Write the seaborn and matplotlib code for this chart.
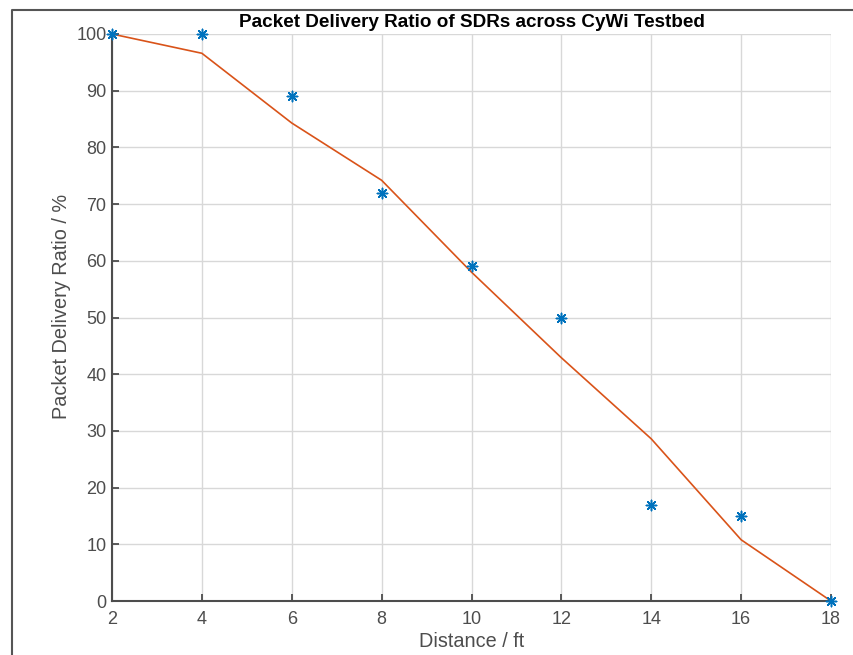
import numpy as np
import pandas as pd
import seaborn as sns
import matplotlib.pyplot as plt
from matplotlib.lines import Line2D

# === data ===
distance_ft = [2, 4, 6, 8, 10, 12, 14, 16, 18]
pdr_measured = [100, 100, 89, 72, 59, 50, 17, 15, 0]
pdr_fit = [100, 96.6, 84.3, 74.2, 58.0, 42.9, 28.6, 10.8, 0]

df = pd.DataFrame({"Distance": distance_ft, "Measured": pdr_measured, "Fit": pdr_fit})

# MATLAB default colours
BLUE = "#0072BD"
ORANGE = "#D95319"
AXCOL = "#4d4d4d"

sns.set_theme(style="whitegrid")
plt.rcParams["font.family"] = ["Liberation Sans", "DejaVu Sans"]

fig = plt.figure(figsize=(8.54, 6.55), dpi=100)
ax = fig.add_axes([112 / 854, 1 - 601 / 655, (831 - 112) / 854, (601 - 34) / 655])

# fitted curve + measured points
sns.lineplot(data=df, x="Distance", y="Fit", color=ORANGE, linewidth=1.2, ax=ax, zorder=2)
sns.scatterplot(data=df, x="Distance", y="Measured", marker=(8, 2, 0), s=55,
                color=BLUE, linewidth=1.1, ax=ax, zorder=3, clip_on=False)

ax.set_xlim(2, 18)
ax.set_ylim(0, 100)
ax.set_xticks(np.arange(2, 19, 2))
ax.set_yticks(np.arange(0, 101, 10))

# grid + spines in MATLAB style
ax.grid(True, color="#d8d8d8", linewidth=1.0)
ax.set_axisbelow(True)
for side in ["top", "right"]:
    ax.spines[side].set_visible(False)
for side in ["left", "bottom"]:
    ax.spines[side].set_color(AXCOL)
    ax.spines[side].set_linewidth(1.5)
ax.tick_params(direction="in", length=5, width=1.3, color=AXCOL,
               labelcolor=AXCOL, labelsize=13, left=True, bottom=True)
ax.tick_params(axis="x", pad=7)
ax.tick_params(axis="y", pad=4)

ax.set_xlabel("Distance / ft", fontsize=14.3, color=AXCOL, labelpad=3)
ax.set_ylabel("Packet Delivery Ratio / %", fontsize=14.3, color=AXCOL, labelpad=3)
ax.yaxis.set_label_coords(-0.057, 0.52)
ax.set_title("Packet Delivery Ratio of SDRs across CyWi Testbed",
             fontsize=13.6, fontweight="bold", color="black", pad=5)

# figure border (left + top edge visible in the screenshot)
bx, by = 12.5 / 854, 1 - 9.5 / 655
fig.add_artist(Line2D([bx, bx, 1], [0, by, by], transform=fig.transFigure,
                      color="#555555", linewidth=1.5))

fig.savefig("out.png", dpi=100)
